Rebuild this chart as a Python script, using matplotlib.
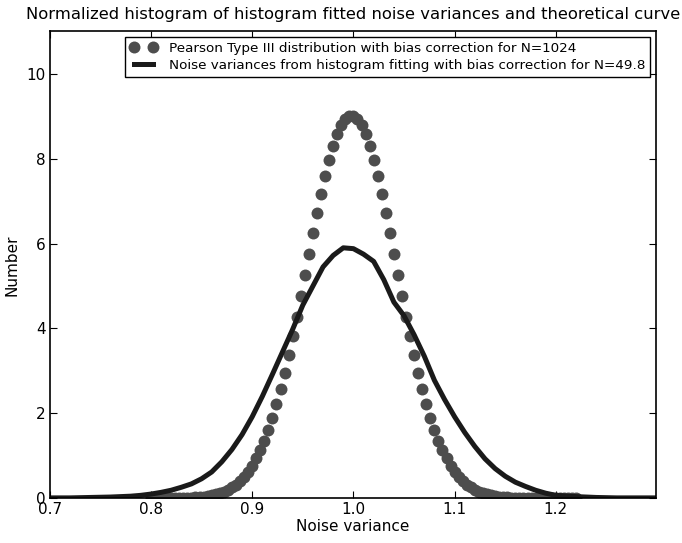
import numpy as np
import matplotlib
matplotlib.use("Agg")
import matplotlib.pyplot as plt

# theoretical curve, sampled every 0.004 from 0.800 to 1.220
theo_x = np.round(np.arange(0.800, 1.2201, 0.004), 3)
theo_y = [0.0, 0.001, 0.001, 0.001, 0.002, 0.003, 0.004, 0.006, 0.008, 0.011,
          0.015, 0.021, 0.029, 0.039, 0.052, 0.069, 0.091, 0.120, 0.156, 0.200,
          0.256, 0.325, 0.41, 0.51, 0.63, 0.77, 0.94, 1.14, 1.36, 1.62,
          1.90, 2.22, 2.58, 2.96, 3.37, 3.82, 4.28, 4.76, 5.25, 5.75,
          6.24, 6.71, 7.16, 7.59, 7.97, 8.30, 8.58, 8.79, 8.94, 9.01,
          9.01, 8.94, 8.79, 8.58, 8.30, 7.97, 7.59, 7.16, 6.71, 6.24,
          5.75, 5.25, 4.76, 4.28, 3.82, 3.37, 2.96, 2.58, 2.22, 1.90,
          1.62, 1.36, 1.14, 0.94, 0.77, 0.63, 0.51, 0.41, 0.325, 0.256,
          0.200, 0.156, 0.120, 0.091, 0.069, 0.052, 0.039, 0.029, 0.021, 0.015,
          0.011, 0.008, 0.006, 0.004, 0.003, 0.002, 0.001, 0.001, 0.001, 0.0,
          0.0, 0.0, 0.0, 0.0, 0.0, 0.0]

# histogram of fitted noise variances
hist_x = [0.70, 0.72, 0.74, 0.76, 0.78, 0.79, 0.80, 0.81, 0.82, 0.83,
          0.84, 0.85, 0.86, 0.87, 0.88, 0.89, 0.90, 0.91, 0.92, 0.93,
          0.94, 0.95, 0.96, 0.97, 0.98, 0.99, 1.00, 1.01, 1.02, 1.03,
          1.04, 1.05, 1.06, 1.07, 1.08, 1.09, 1.10, 1.11, 1.12, 1.13,
          1.14, 1.15, 1.16, 1.17, 1.18, 1.19, 1.20, 1.22, 1.24, 1.26,
          1.28, 1.30]
hist_y = [0.01, 0.01, 0.02, 0.03, 0.05, 0.07, 0.10, 0.14, 0.19, 0.26,
          0.34, 0.46, 0.62, 0.86, 1.15, 1.50, 1.92, 2.40, 2.92, 3.45,
          3.98, 4.55, 5.00, 5.45, 5.72, 5.90, 5.88, 5.75, 5.58, 5.15,
          4.62, 4.30, 3.85, 3.35, 2.78, 2.33, 1.92, 1.55, 1.22, 0.93,
          0.70, 0.52, 0.38, 0.28, 0.19, 0.12, 0.07, 0.04, 0.02, 0.01,
          0.01, 0.01]

xticks = [0.7, 0.8, 0.9, 1.0, 1.1, 1.2]
yticks = [0, 2, 4, 6, 8, 10]

fig = plt.figure(figsize=(6.82, 5.43), dpi=100)
ax = fig.add_axes([0.0729, 0.0823, 0.8891, 0.8601])

ax.plot(theo_x, theo_y, 'o', color='#4d4d4d', markersize=8.6, markeredgewidth=0,
        label='Pearson Type III distribution with bias correction for N=1024')
ax.plot(hist_x, hist_y, '-', color='#1a1a1a', linewidth=3.6,
        label='Noise variances from histogram fitting with bias correction for N=49.8')

ax.set_xlim(0.7, 1.299)
ax.set_ylim(0, 11)
ax.set_xticks(xticks)
ax.set_xticklabels(['%.1f' % v for v in xticks])
ax.set_yticks(yticks)
ax.tick_params(direction='in', top=True, right=True, length=5, labelsize=11, pad=3)
for s in ax.spines.values():
    s.set_linewidth(1.2)

ax.set_xlabel('Noise variance', fontsize=11, labelpad=1)
ax.set_ylabel('Number', fontsize=11, labelpad=5)
ax.set_title('Normalized histogram of histogram fitted noise variances and theoretical curve',
             fontsize=11.8, pad=9)

leg = ax.legend(loc='upper right', numpoints=2, fontsize=9.7, fancybox=False,
                framealpha=1, borderaxespad=0.45, handlelength=2.0,
                handletextpad=0.9, borderpad=0.35, labelspacing=0.3)
leg.get_frame().set_edgecolor('black')
leg.get_frame().set_linewidth(1.0)

fig.savefig('out.png', dpi=100)
